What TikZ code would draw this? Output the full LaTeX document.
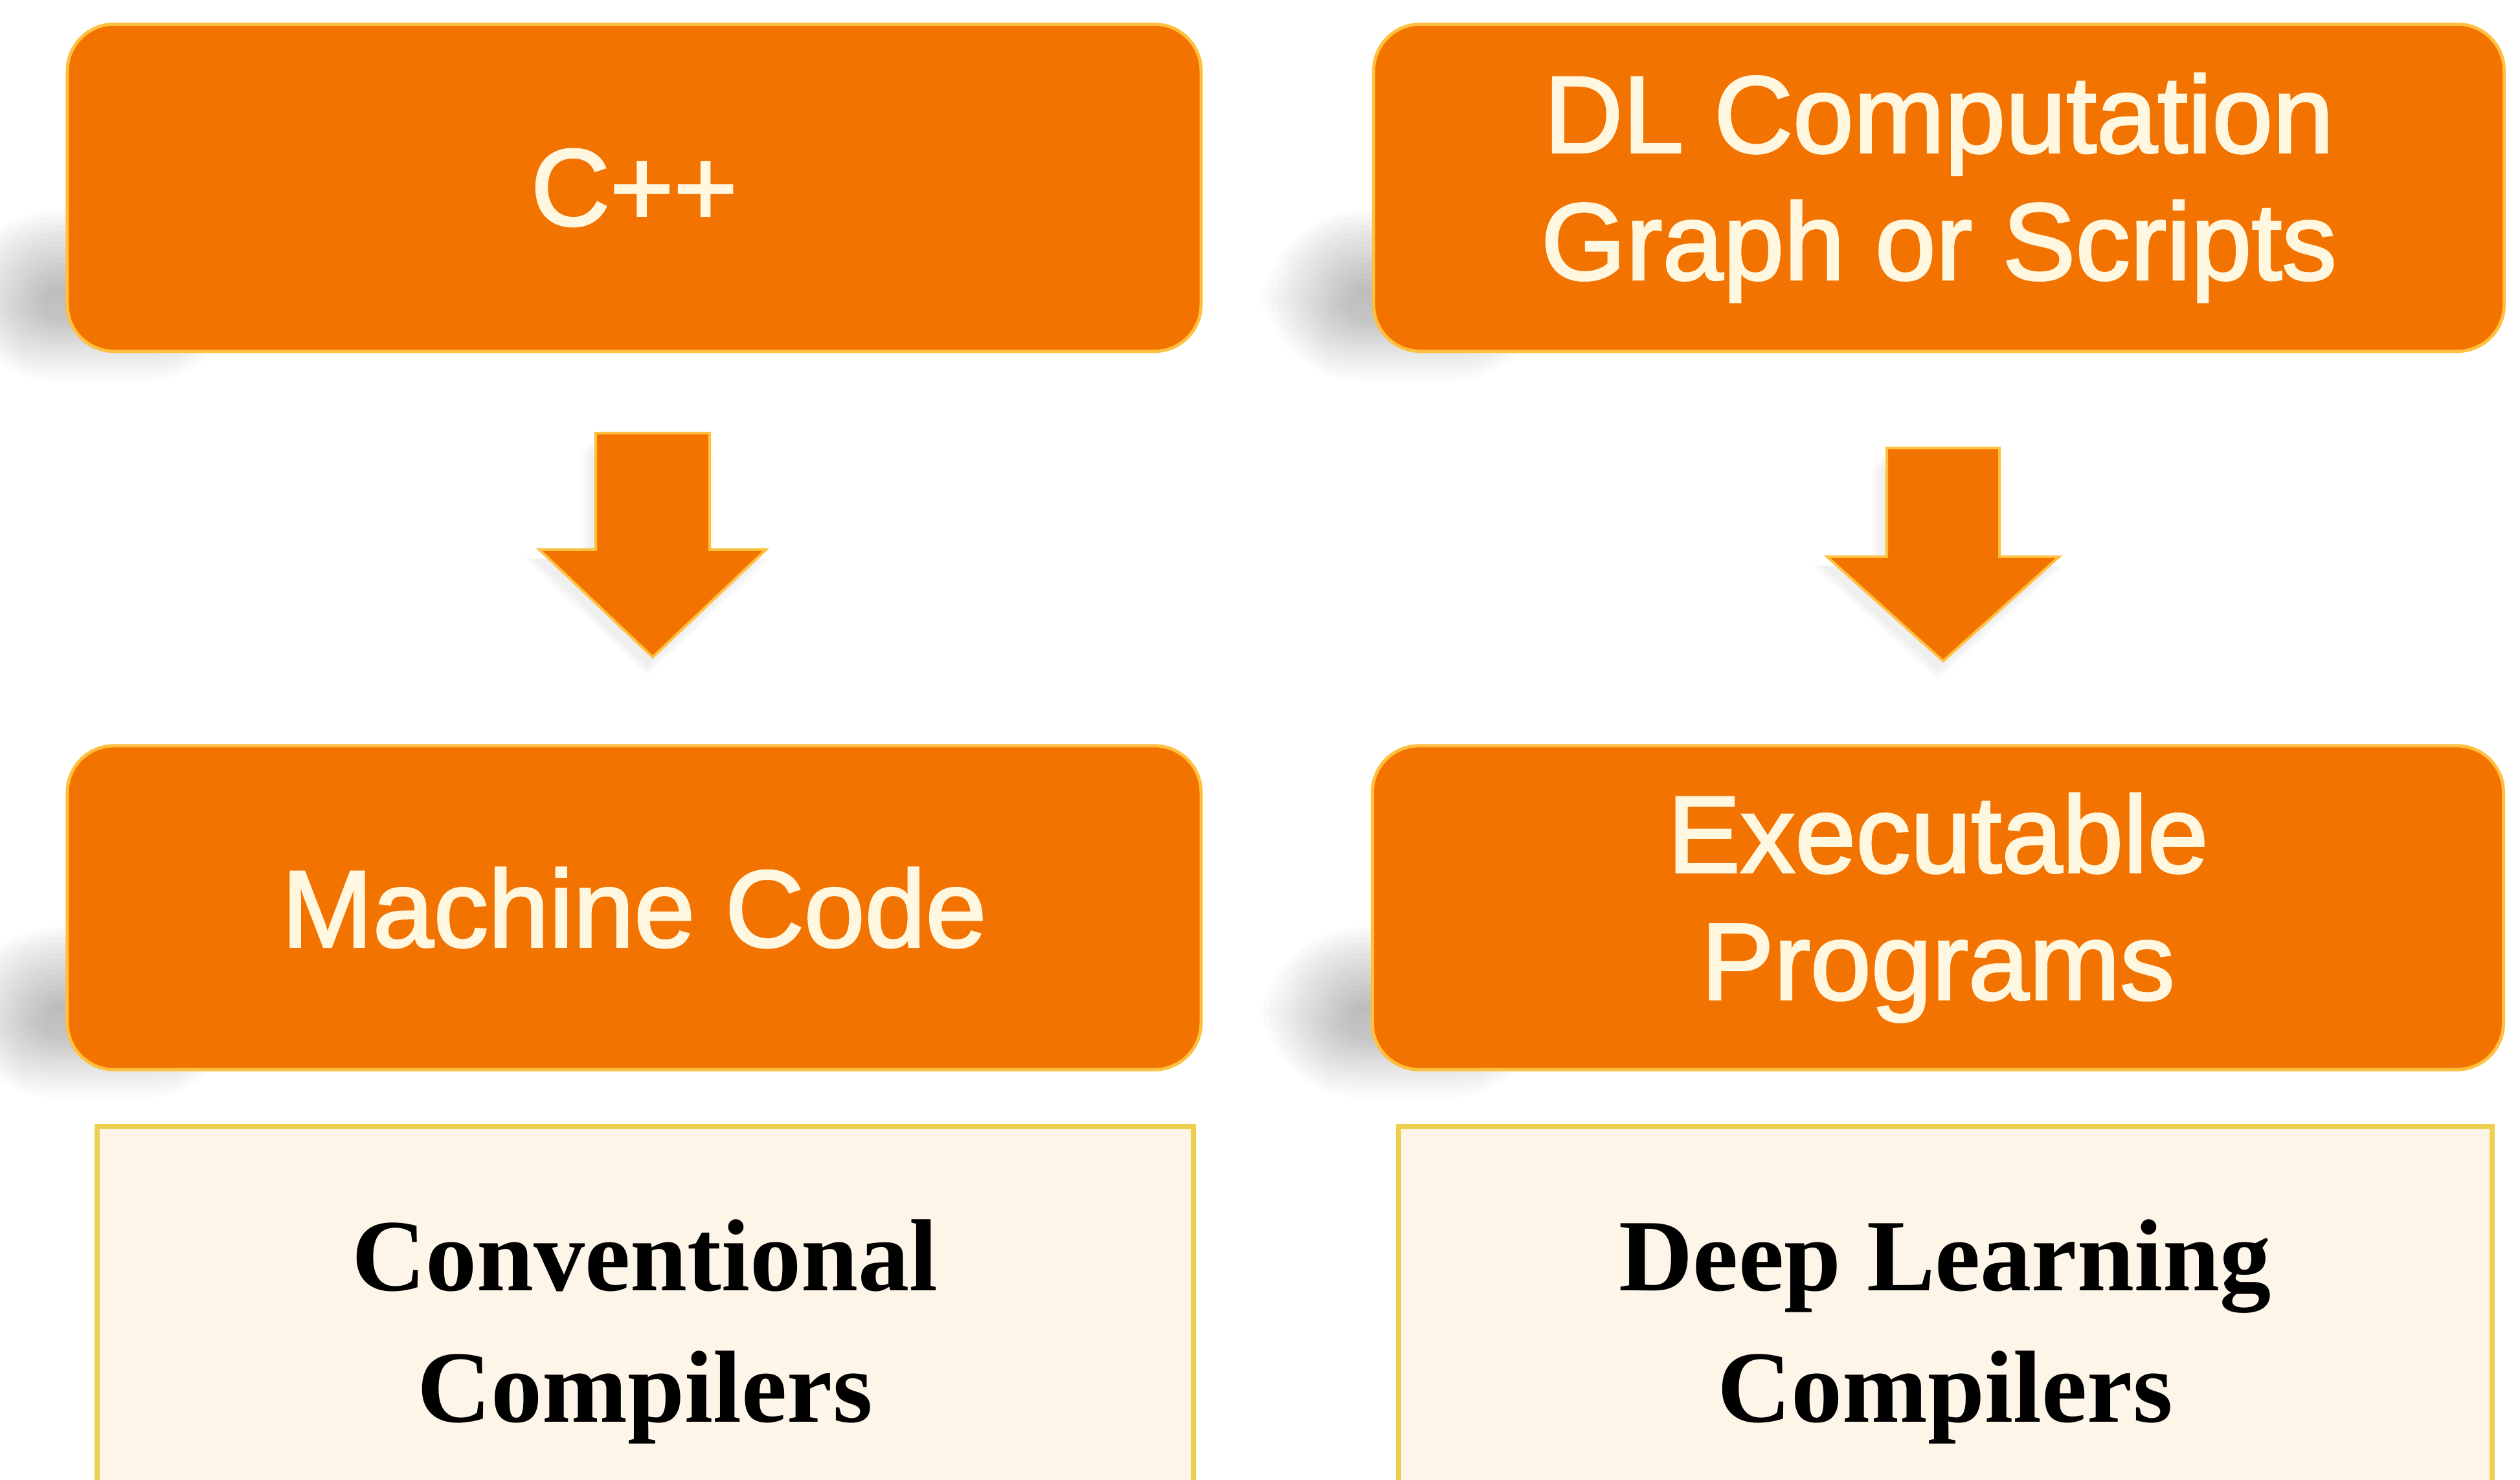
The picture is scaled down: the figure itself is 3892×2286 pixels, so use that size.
\documentclass[tikz,border=0pt]{standalone}
\usepackage{fontspec}
\setmainfont{Liberation Serif}
\newfontfamily\boxsans{Liberation Sans}[FakeBold=2]

\definecolor{boxorange}{RGB}{243,115,0}
\definecolor{boxedge}{RGB}{255,192,64}
\definecolor{boxtext}{RGB}{255,247,224}
\definecolor{notefill}{RGB}{253,246,232}
\definecolor{noteedge}{RGB}{238,208,78}
\definecolor{shade}{RGB}{60,60,70}

% soft shadow on the lower left of a box: #1 left, #2 top, #3 right, #4 bottom
\newcommand{\dropshade}[4]{%
  \foreach \i in {0,...,15}{%
    \pgfmathsetmacro{\rr}{0.3+0.09*\i}%
    \fill[shade, opacity=0.013, rounded corners=\rr cm]
      ({#1-40-9*\i},{#4-100-8*\i}) rectangle ({#1+140+9*\i},{#4-45+6*\i});
  }}

\begin{document}
\begin{tikzpicture}[x=0.01cm, y=-0.01cm,
  stage/.style={rectangle, rounded corners=0.72cm, fill=boxorange, draw=boxedge,
    line width=0.05cm, minimum width=17.5cm, minimum height=5.05cm, inner sep=0pt,
    text=boxtext, align=center, font=\boxsans\fontsize{48}{55.8}\selectfont},
  note/.style={rectangle, fill=notefill, draw=noteedge, line width=0.08cm,
    minimum width=16.92cm, minimum height=7cm, inner sep=0pt},
  notetext/.style={align=center, text=black, inner sep=0pt,
    font=\fontsize{45}{57.5}\selectfont\bfseries},
  flow/.style={fill=boxorange, draw=boxedge, line width=0.04cm, line join=miter},
  flowshade/.style={fill=shade, opacity=0.018}
]
\useasboundingbox (0,0) rectangle (3892,2286);
\clip (0,0) rectangle (3892,2286);
\fill[white] (0,0) rectangle (3892,2286);

% shadows behind the orange boxes
\dropshade{104}{35}{1855}{545}
\dropshade{2122}{35}{3867}{545}
\dropshade{104}{1152}{1855}{1652}
\dropshade{2120}{1152}{3866}{1652}

% source and target boxes
\node[stage] (cpp) at (979.5,290) {C++};
\node[stage, minimum width=17.45cm] (dlgraph) at (2994.5,290) {DL Computation\\Graph or Scripts};
\node[stage, minimum height=5cm] (mcode) at (979.5,1402) {Machine Code};
\node[stage, minimum width=17.46cm, minimum height=5cm] (exec) at (2993,1402) {Executable\\Programs};

% compiler captions
\node[note] (convbox) at (996,2090) {};
\node[note, minimum width=16.88cm] (dlbox) at (3004,2090) {};
\node[notetext] (convtxt) at (996,2057) {Conventional\\Compilers};
\node[notetext] (dltxt) at (3004,2057) {Deep Learning\\Compilers};

% block arrows: soft shadow, then the arrow
\foreach \d in {0,5,10,15}{
  \fill[flowshade] ({920-8-\d},{669+14+\d}) -- ({1096-8+\d},{669+14+\d}) -- ({1096-8+\d},{849+14}) -- ({1183-8+\d},{849+14})
    -- ({1008-8},{1015+14+\d}) -- ({833-8-\d},{849+14}) -- ({920-8-\d},{849+14}) -- cycle;
  \fill[flowshade] ({2914-8-\d},{692+14+\d}) -- ({3088-8+\d},{692+14+\d}) -- ({3088-8+\d},{860+14}) -- ({3180-8+\d},{860+14})
    -- ({3001-8},{1021+14+\d}) -- ({2822-8-\d},{860+14}) -- ({2914-8-\d},{860+14}) -- cycle;
}
\path[flow] (920,669) -- (1096,669) -- (1096,849) -- (1183,849)
  -- (1008,1015) -- (833,849) -- (920,849) -- cycle;
\path[flow] (2914,692) -- (3088,692) -- (3088,860) -- (3180,860)
  -- (3001,1021) -- (2822,860) -- (2914,860) -- cycle;
\end{tikzpicture}
\end{document}
